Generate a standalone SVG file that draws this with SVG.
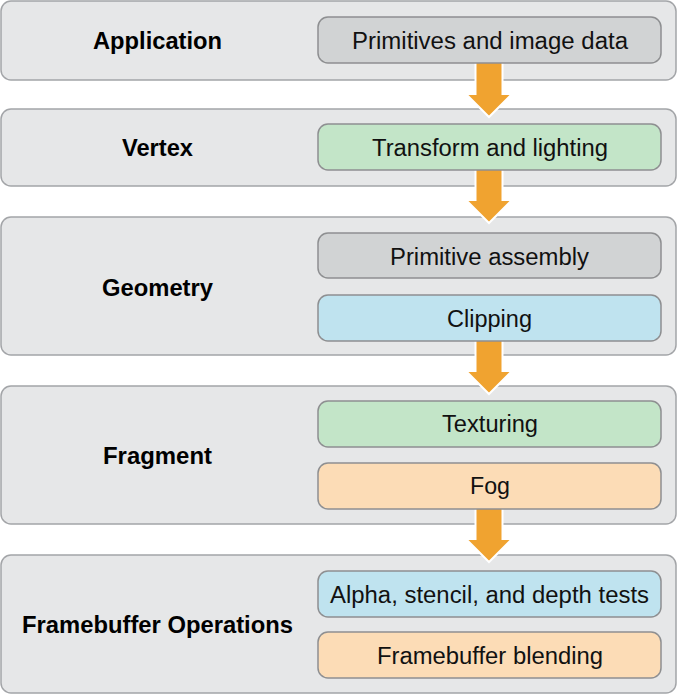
<svg xmlns="http://www.w3.org/2000/svg" width="677" height="695" viewBox="0 0 677 695">
<style>
.panel{fill:#e6e7e8;stroke:#a3a5a8;stroke-width:1.5}
.box{stroke:#8e8f91;stroke-width:1.5}
.gray{fill:#d1d3d4}
.green{fill:#c3e5c8}
.blue{fill:#bfe3ef}
.orange{fill:#fcdcb6}
.stage{font-family:"Liberation Sans",Arial,sans-serif;font-weight:bold;font-size:23px;fill:#000;text-anchor:middle}
.lbl{font-family:"Liberation Sans",Arial,sans-serif;font-size:23px;fill:#111;text-anchor:middle}
.arrow{fill:#f0a330;stroke:#fff;stroke-width:2;stroke-linejoin:miter}
</style>
<rect width="677" height="695" fill="#fff"/>
<g id="panels">
<g id="application"><rect class="panel" x="1" y="1" width="675" height="79" rx="10"/><text class="stage" x="157.5" y="49" textLength="129" lengthAdjust="spacingAndGlyphs">Application</text></g>
<g id="vertex"><rect class="panel" x="1" y="109" width="675" height="77" rx="10"/><text class="stage" x="157.5" y="156" textLength="71" lengthAdjust="spacingAndGlyphs">Vertex</text></g>
<g id="geometry"><rect class="panel" x="1" y="217" width="675" height="138" rx="10"/><text class="stage" x="157.5" y="296" textLength="111" lengthAdjust="spacingAndGlyphs">Geometry</text></g>
<g id="fragment"><rect class="panel" x="1" y="386" width="675" height="138" rx="10"/><text class="stage" x="157.5" y="464" textLength="109" lengthAdjust="spacingAndGlyphs">Fragment</text></g>
<g id="framebuffer"><rect class="panel" x="1" y="555" width="675" height="138" rx="10"/><text class="stage" x="157.5" y="633" textLength="271" lengthAdjust="spacingAndGlyphs">Framebuffer Operations</text></g>
</g>
<g id="connectors">
<polygon class="arrow" points="475.5,60 502.5,60 502.5,94 512,94 489,117 466,94 475.5,94"/>
<polygon class="arrow" points="475.5,167 502.5,167 502.5,200 512,200 489,223 466,200 475.5,200"/>
<polygon class="arrow" points="475.5,338 502.5,338 502.5,371 512,371 489,394 466,371 475.5,371"/>
<polygon class="arrow" points="475.5,506 502.5,506 502.5,539 512,539 489,562 466,539 475.5,539"/>
</g>
<g id="n-primitives"><rect class="box gray" x="318" y="17" width="343" height="46" rx="10"/><text class="lbl" x="490" y="49" textLength="276" lengthAdjust="spacingAndGlyphs">Primitives and image data</text></g>
<g id="n-transform"><rect class="box green" x="318" y="124" width="343" height="46" rx="10"/><text class="lbl" x="490" y="156" textLength="236" lengthAdjust="spacingAndGlyphs">Transform and lighting</text></g>
<g id="n-assembly"><rect class="box gray" x="318" y="233" width="343" height="45" rx="10"/><text class="lbl" x="489.5" y="265" textLength="199" lengthAdjust="spacingAndGlyphs">Primitive assembly</text></g>
<g id="n-clipping"><rect class="box blue" x="318" y="295" width="343" height="46" rx="10"/><text class="lbl" x="489.5" y="327" textLength="85" lengthAdjust="spacingAndGlyphs">Clipping</text></g>
<g id="n-texturing"><rect class="box green" x="318" y="401" width="343" height="46" rx="10"/><text class="lbl" x="490" y="432" textLength="96" lengthAdjust="spacingAndGlyphs">Texturing</text></g>
<g id="n-fog"><rect class="box orange" x="318" y="463" width="343" height="46" rx="10"/><text class="lbl" x="490" y="494" textLength="40" lengthAdjust="spacingAndGlyphs">Fog</text></g>
<g id="n-tests"><rect class="box blue" x="318" y="571" width="343" height="46" rx="10"/><text class="lbl" x="489.5" y="603" textLength="319" lengthAdjust="spacingAndGlyphs">Alpha, stencil, and depth tests</text></g>
<g id="n-blending"><rect class="box orange" x="318" y="632" width="343" height="46" rx="10"/><text class="lbl" x="490" y="664" textLength="226" lengthAdjust="spacingAndGlyphs">Framebuffer blending</text></g>
</svg>
